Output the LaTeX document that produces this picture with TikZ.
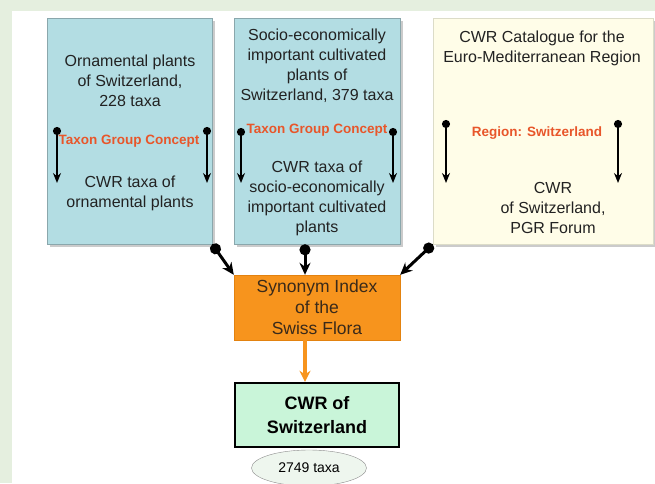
\documentclass[tikz,border=0pt]{standalone}
\usepackage{fontspec}
\setmainfont{Liberation Sans}
\usetikzlibrary{arrows.meta,shadows,shapes.geometric}

\definecolor{bggreen}{HTML}{E5EFDF}
\definecolor{boxblue}{HTML}{B3DDE3}
\definecolor{blueedge}{HTML}{8AA7AC}
\definecolor{boxcream}{HTML}{FFFDE8}
\definecolor{creamedge}{HTML}{DCDCC8}
\definecolor{synorange}{HTML}{F7941D}
\definecolor{synedge}{HTML}{E3820F}
\definecolor{syntext}{HTML}{3A2A1A}
\definecolor{cwrgreen}{HTML}{C9F5D9}
\definecolor{taxafill}{HTML}{EEF6EE}
\definecolor{redtext}{HTML}{E8562A}
\definecolor{textblack}{HTML}{222222}

\tikzstyle{infobox} = [rectangle, line width=0.6pt, drop shadow={shadow xshift=2.5pt, shadow yshift=-2.5pt, fill=black!40}]
\tikzstyle{plain} = [align=center, text=textblack, font=\fontsize{16}{20}\selectfont]
\tikzstyle{redlabel} = [text=redtext, font=\bfseries\fontsize{13.5}{15}\selectfont]
\tikzstyle{ballarrow} = [{Circle[length=8pt]}-{Stealth[length=10pt,width=8pt]}, line width=2.2pt]
\tikzstyle{feed} = [{Circle[length=11pt]}-{Stealth[length=12pt,width=11pt]}, line width=3pt]

\begin{document}
\begin{tikzpicture}[x=1pt,y=-1pt]
		\useasboundingbox (0,0) rectangle (655,483);
		\fill[bggreen] (0,0) rectangle (655,483);
		\fill[white] (12,11) rectangle (655,483);
		% source boxes
		\node[infobox, draw=blueedge, fill=boxblue, minimum width=165pt, minimum height=226pt] (ornbox) at (129.5,131) {};
		\node[infobox, draw=blueedge, fill=boxblue, minimum width=166pt, minimum height=226pt] (socbox) at (317,131) {};
		\node[infobox, draw=creamedge, fill=boxcream, minimum width=220pt, minimum height=226pt] (eurobox) at (543,131) {};
		\node[plain] (orntop) at (130,81) {Ornamental plants\\of Switzerland,\\228 taxa};
		\node[redlabel] (ornred) at (129,141) {Taxon Group Concept};
		\node[plain] (ornbot) at (130,193) {CWR taxa of\\ornamental plants};
		\node[plain] (soctop) at (317,66) {Socio-economically\\important cultivated\\plants of\\Switzerland, 379 taxa};
		\node[redlabel] (socred) at (317,130) {Taxon Group Concept};
		\node[plain] (socbot) at (317,198) {CWR taxa of\\socio-economically\\important cultivated\\plants};
		\node[plain] (eurotop) at (542,48) {CWR Catalogue for the\\Euro-Mediterranean Region};
		\node[redlabel] (eurored) at (537,133) {Region: Switzerland};
		\node[plain] (eurobot) at (553,208) {CWR\\of Switzerland,\\PGR Forum};
		% arrows inside the boxes
		\foreach \n/\xx/\yt in {a/57/127, b/207/127, c/241/128, d/393/128, e/446/120, f/618/120} {
			\coordinate (\n top) at (\xx,\yt);
			\coordinate (\n bot) at (\xx,183);
			\draw[ballarrow] (\n top) -- (\n bot);
		}
		% merge
		\node[rectangle, draw=synedge, fill=synorange, text=syntext, align=center, minimum width=166pt, minimum height=65pt, font=\fontsize{17.5}{21}\selectfont] (synbox) at (317,307.5) {Synonym Index\\of the\\Swiss Flora};
		\node[rectangle, draw=black, line width=2.4pt, fill=cwrgreen, align=center, minimum width=164pt, minimum height=64pt, font=\bfseries\fontsize{18}{24}\selectfont] (cwrbox) at (317,415) {CWR of\\Switzerland};
		\node[ellipse, draw=black!45, fill=taxafill, minimum width=115pt, minimum height=36pt, inner sep=0pt, font=\fontsize{14}{15}\selectfont] (taxa) at (309,468) {2749 taxa};
		\draw[feed] (ornbox.south east) -- (synbox.north west);
		\draw[feed] ([xshift=-12pt]socbox.south) -- ([xshift=-12pt]synbox.north);
		\draw[feed] (eurobox.south west) -- (synbox.north east);
		\draw[draw=synorange, fill=synorange, line width=3.5pt, -{Stealth[length=11pt,width=11pt]}] ([xshift=-12pt]synbox.south) -- ([xshift=-12pt]cwrbox.north);
	\end{tikzpicture}
\end{document}
